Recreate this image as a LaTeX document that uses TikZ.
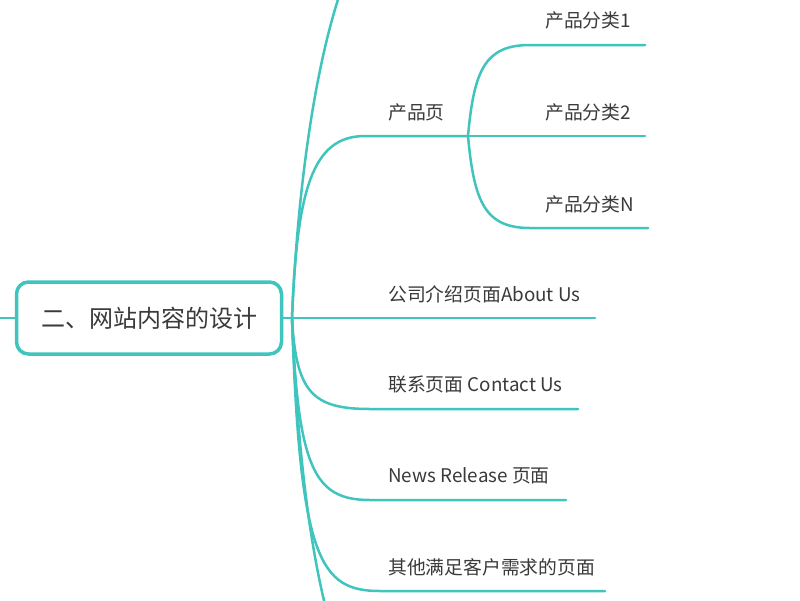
\documentclass[tikz,border=0pt]{standalone}
\usepackage{fontspec}
\setmainfont{Noto Sans CJK SC}
\definecolor{teal1}{RGB}{64,196,190}
\definecolor{txt}{RGB}{58,58,58}
\begin{document}
\begin{tikzpicture}[x=1pt,y=-1pt,
  branch/.style={draw=teal1,line width=2.5pt,line cap=round},
  lbl/.style={font=\fontsize{18.8}{20}\selectfont,text=txt,anchor=base west,inner sep=0pt}]
\useasboundingbox[fill=white] (0,0) rectangle (800,600);
\begin{scope}
\clip (0,0) rectangle (800,600);
% coordinates
\coordinate (o) at (292,318);
\coordinate (lft) at (-5,318);
\coordinate (topE) at (600,-110);
\coordinate (botE) at (600,746);
\coordinate (prodJ) at (468,136);
\coordinate (c1E) at (645,45);
\coordinate (c2E) at (645,136);
\coordinate (cNE) at (648,228);
\coordinate (aboutE) at (595,318);
\coordinate (contactE) at (578,409);
\coordinate (newsE) at (566,500);
\coordinate (otherE) at (605,591);
% root
\node[draw=teal1,line width=3.5pt,rounded corners=12pt,minimum width=265pt,minimum height=72pt,
  fill=white,font=\fontsize{24}{28}\selectfont,text=txt] (root) at (149,318) {二、网站内容的设计};
\draw[branch] (lft) -- (root.west);
\draw[branch] (root.east) -- (o);
% branches
\draw[branch] (o) .. controls (299,150) and (332,-100) .. (420,-110) -- (topE);
\draw[branch] (o) .. controls (297,190) and (312,136) .. (365,136) -- (prodJ);
\draw[branch] (prodJ) .. controls (474,70) and (485,45) .. (530,45) -- (c1E);
\draw[branch] (prodJ) -- (c2E);
\draw[branch] (prodJ) .. controls (474,202) and (485,228) .. (530,228) -- (cNE);
\draw[branch] (o) -- (aboutE);
\draw[branch] (o) .. controls (296,392) and (312,409) .. (370,409) -- (contactE);
\draw[branch] (o) .. controls (298,470) and (315,500) .. (370,500) -- (newsE);
\draw[branch] (o) .. controls (300,560) and (320,591) .. (380,591) -- (otherE);
\draw[branch] (o) .. controls (299,486) and (322,736) .. (420,746) -- (botE);
\end{scope}
% labels
\node[lbl] (prod) at (388,119) {产品页};
\node[lbl] (c1) at (545,27) {产品分类1};
\node[lbl] (c2) at (545,119) {产品分类2};
\node[lbl] (cN) at (545,211) {产品分类N};
\node[lbl] (about) at (388,301) {公司介绍页面About Us};
\node[lbl] (contact) at (388,391) {联系页面 Contact Us};
\node[lbl] (news) at (388,482) {News Release 页面};
\node[lbl] (other) at (388,574) {其他满足客户需求的页面};
\end{tikzpicture}
\end{document}
